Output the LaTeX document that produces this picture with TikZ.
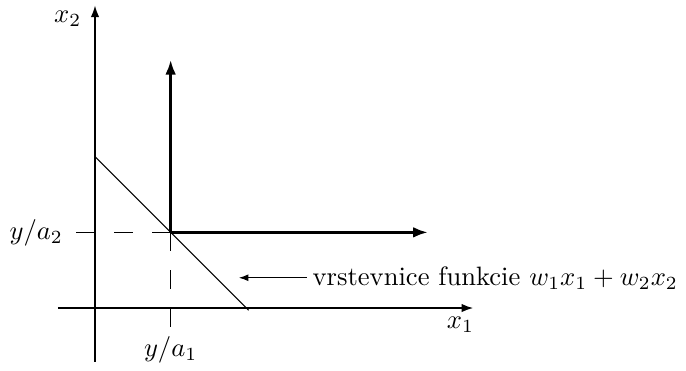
\documentclass[tikz,border=0pt]{standalone}
\usepackage{amsmath,amssymb}
\usetikzlibrary{arrows.meta}

\begin{document}
\begin{tikzpicture}[
  axis/.style={line width=0.6pt,-{Latex[length=4.4pt,width=3.2pt]}},
  shifted/.style={line width=1pt,-{Latex[length=5.5pt,width=4pt]}},
  guide/.style={line width=0.4pt,dash pattern=on 7.1pt off 7.1pt},
  pointer/.style={line width=0.5pt,-{Latex[length=3.6pt,width=2.6pt]}}]
\useasboundingbox (-1.256,-0.82) rectangle (7.813,4.072);

\coordinate (L) at (-0.49,0);
\coordinate (R) at (5.0,0);
\coordinate (B) at (0,-0.71);
\coordinate (T) at (0,4.0);
\coordinate (P) at (1,1);
\coordinate (PU) at (1,3.28);
\coordinate (PR) at (4.40,1);
\coordinate (HL) at (-0.256,1);
\coordinate (VB) at (1,-0.256);
\coordinate (A) at (0,2.0);
\coordinate (C) at (2.03,-0.03);
\coordinate (Tip) at (1.90,0.40);

\node (X2) at (-0.36,3.83) {\(x_2\)};
\node (X1) at (4.83,-0.22) {\(x_1\)};
\node[left] (YA2) at (-0.30,1.0) {\(y/a_2\)};
\node (YA1) at (1,-0.555) {\(y/a_1\)};
\node[right,inner sep=2pt] (V) at (2.80,0.40) {vrstevnice funkcie \(w_1x_1+w_2x_2\)};

\draw[axis] (L) -- (R);
\draw[axis] (B) -- (T);
\draw[guide] (P) -- (HL);
\draw[guide] (P) -- (VB);
\draw[line width=0.4pt] (A) -- (C);
\draw[shifted] (P) -- (PU);
\draw[shifted] (P) -- (PR);
\draw[pointer] (V) -- (Tip);
\end{tikzpicture}
\end{document}
